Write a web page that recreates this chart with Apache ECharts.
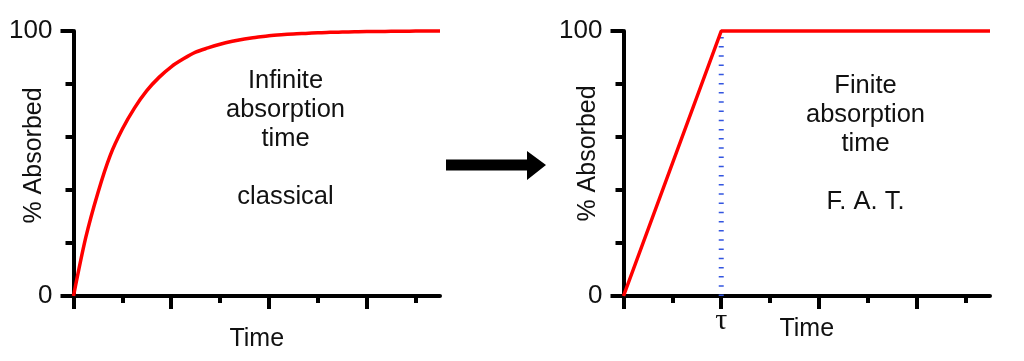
<!DOCTYPE html>
<html>
<head>
<meta charset="utf-8">
<script src="https://cdn.jsdelivr.net/npm/echarts@6/dist/echarts.min.js"></script>
<style>
html,body{margin:0;padding:0;background:#fff;}
#chart{width:1024px;height:361px;}
</style>
</head>
<body>
<div id="chart"></div>
<script>
// ---- data ----
const timeClassical = [0, 0.25, 0.5, 0.75, 1, 1.25, 1.5, 1.75, 2, 2.25, 2.5, 2.75, 3, 3.25, 3.5, 3.75, 4, 4.25, 4.5, 4.75, 5, 5.25, 5.5, 5.75, 6, 6.25, 6.5, 6.75, 7, 7.25, 7.5];
const absorbedClassical = [0, 22, 39, 53, 63, 71, 77.5, 82.5, 86.5, 89.5, 92, 93.6, 95, 96.1, 97, 97.6, 98.2, 98.6, 98.9, 99.1, 99.3, 99.5, 99.6, 99.7, 99.8, 99.8, 99.9, 99.9, 100, 100, 100];
const timeFAT = [0, 2, 7.5];
const absorbedFAT = [0, 100, 100];
const tau = 2;
const tauLabel = 'τ';
const xMajorTicks = [0, 2, 4, 6];
const xMinorTicks = [1, 3, 5, 7];
const xMax = 7.5;
const yLabels = [0, 100];
const textClassical = 'Infinite\nabsorption\ntime\n\nclassical';
const textFAT = 'Finite\nabsorption\ntime\n\nF. A. T.';

const FONT = '"Liberation Sans", Arial, sans-serif';
const TXT = '#111';

function zip(a, b) { return a.map((v, i) => [v, b[i]]); }

function xMain(grid, withTau, nameGap) {
  return {
    gridIndex: grid, type: 'value', position: 'bottom', min: 0, max: xMax,
    axisLine: { onZero: false, lineStyle: { color: '#000', width: 4 } },
    axisTick: { show: true, customValues: xMajorTicks, length: 13, lineStyle: { color: '#000', width: 4 } },
    axisLabel: withTau ? {
      show: true, customValues: [tau], formatter: v => (v === tau ? tauLabel : ''),
      fontSize: 30, fontFamily: '"Liberation Serif", "DejaVu Serif", serif', color: TXT, margin: 10
    } : { show: false },
    splitLine: { show: false },
    name: 'Time', nameLocation: 'middle', nameGap: nameGap, nameMoveOverlap: false,
    nameTextStyle: { fontSize: 25, fontFamily: FONT, color: TXT }
  };
}
function xMinor(grid) {
  return {
    gridIndex: grid, type: 'value', position: 'bottom', min: 0, max: xMax,
    axisLine: { show: false },
    axisTick: { show: true, customValues: xMinorTicks, length: 7, lineStyle: { color: '#000', width: 4 } },
    axisLabel: { show: false }, splitLine: { show: false }
  };
}
function yAx(grid, nameGap, pad) {
  return {
    gridIndex: grid, type: 'value', min: yLabels[0], max: yLabels[1], interval: 100,
    axisLine: { show: true, lineStyle: { color: '#000', width: 4 } },
    axisTick: { show: true, length: 13, lineStyle: { color: '#000', width: 4 } },
    minorTick: { show: true, splitNumber: 5, length: 8, lineStyle: { color: '#000', width: 4 } },
    axisLabel: { fontSize: 26, fontFamily: FONT, color: TXT, margin: 21 },
    splitLine: { show: false },
    name: '% Absorbed', nameLocation: 'middle', nameGap: nameGap, nameMoveOverlap: false,
    nameTextStyle: { fontSize: 25, fontFamily: FONT, color: TXT, padding: pad }
  };
}

const chart = echarts.init(document.getElementById('chart'), null, { renderer: 'canvas' });
chart.setOption({
  backgroundColor: '#fff',
  animation: false,
  grid: [
    { left: 73.5, top: 31, width: 366.5, height: 265, outerBoundsMode: 'none', containLabel: false },
    { left: 623.5, top: 31, width: 366.5, height: 265, outerBoundsMode: 'none', containLabel: false }
  ],
  xAxis: [xMain(0, false, 31), xMinor(0), xMain(1, true, 21), xMinor(1)],
  yAxis: [yAx(0, 27, [0, 0, 0, 16]), yAx(1, 23, [0, 0, 0, 20])],
  series: [
    {
      type: 'line', xAxisIndex: 0, yAxisIndex: 0, data: zip(timeClassical, absorbedClassical),
      smooth: 0.3, showSymbol: false, clip: false,
      lineStyle: { color: '#ff0000', width: 3.5 }, z: 5
    },
    {
      type: 'line', xAxisIndex: 2, yAxisIndex: 1, data: [[tau, absorbedFAT[0]], [tau, absorbedFAT[1]]],
      showSymbol: false, clip: false,
      lineStyle: { color: '#3355e0', width: 5, type: [1.5, 7.7] }, z: 3
    },
    {
      type: 'line', xAxisIndex: 2, yAxisIndex: 1, data: zip(timeFAT, absorbedFAT),
      showSymbol: false, clip: false,
      lineStyle: { color: '#ff0000', width: 3.5 }, z: 5
    }
  ],
  graphic: [
    {
      type: 'polygon', silent: true,
      shape: { points: [[446, 159.5], [527, 159.5], [527, 151], [546, 165], [527, 180], [527, 170.5], [446, 170.5]] },
      style: { fill: '#000' }
    },
    {
      type: 'text', x: 285.5, y: 139,
      style: { text: textClassical, font: '25.5px ' + FONT, fill: TXT, align: 'center', verticalAlign: 'middle', lineHeight: 29 }
    },
    {
      type: 'text', x: 865.5, y: 144,
      style: { text: textFAT, font: '25.5px ' + FONT, fill: TXT, align: 'center', verticalAlign: 'middle', lineHeight: 29 }
    }
  ]
});
</script>
</body>
</html>
